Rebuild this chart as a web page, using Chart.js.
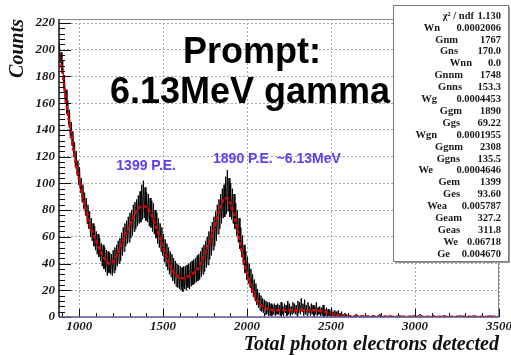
<!DOCTYPE html>
<html>
<head>
<meta charset="utf-8">
<script src="https://cdn.jsdelivr.net/npm/chart.js@4.4.1/dist/chart.umd.min.js"></script>
<style>
  html, body { margin: 0; padding: 0; background: #fff; }
  canvas { display: block; }
</style>
</head>
<body>
<canvas id="c" width="511" height="355"></canvas>
<script>
// Histogram of total photo-electrons: 5 PE bins from 880 to 2600
const binStart = 880;
const binWidth = 5;
const counts = [
  205,190,198,183,192,171,181,160,170,152,
  162,144,155,134,146,128,139,120,131,112,
  124,106,117,99,112,93,104,86,99,81,
  93,76,89,70,84,66,79,60,74,57,
  70,53,68,50,64,47,62,45,59,42,
  55,38,54,36,52,34,50,31,49,33,
  48,32,47,31,50,33,52,35,54,38,
  57,40,59,42,63,46,67,49,70,53,
  72,55,75,56,78,59,80,61,84,64,
  86,66,88,68,91,70,94,71,99,73,
  102,74,97,72,93,71,92,68,89,67,
  87,64,85,62,80,59,78,55,74,52,
  70,49,67,46,62,41,58,38,55,35,
  52,32,49,30,47,27,44,25,42,23,
  40,22,39,21,38,20,37,19,38,21,
  38,20,39,22,40,21,41,23,42,24,
  43,25,44,26,46,27,47,28,49,30,
  52,32,54,34,57,37,60,39,64,43,
  68,46,71,50,75,53,79,57,84,62,
  88,66,92,70,96,74,99,75,105,77,
  110,79,104,75,100,73,96,70,92,66,
  85,61,80,56,74,51,67,45,61,39,
  54,33,49,28,45,25,40,22,36,18,
  32,15,28,12,25,9,21,7,18,5,
  16,4,14,3,13,2,12,2,11,1,
  11,1,10,1,9,2,10,1,9,2,
  10,2,9,1,11,2,8,1,10,3,
  9,1,12,2,10,1,8,2,11,3,
  10,2,9,1,12,3,11,2,14,4,
  10,1,13,2,9,1,11,3,8,1,
  10,2,9,1,8,2,11,1,7,2,
  8,1,7,1,9,0,6,1,7,0,
  6,1,5,0,7,1,4,0,5,0,
  4,0,5,1,3,0,4,0,2,0,
  3,0,2,0
];
// Sparse tail: 20 PE bins from 2600 to 3500
const tailStart = 2600;
const tailWidth = 20;
const tailCounts = [
  1,0,2,0,1,0,0,1,0,2,
  0,0,1,0,0,1,0,0,0,1,
  0,2,0,0,0,1,0,0,1,0,
  0,0,0,1,0,0,0,1,0,0,
  0,0,1,0,0
];

// Fitted model (sum of Gaussians + tail)
const fitX = [
  880,900,920,940,960,980,
  1000,1020,1040,1060,1080,1100,1120,1140,1160,1180,
  1200,1220,1240,1260,1280,1300,1320,1340,1360,1380,
  1400,1420,1440,1460,1480,1500,1520,1540,1560,1580,
  1600,1620,1640,1660,1680,1700,1720,1740,1760,1780,
  1800,1820,1840,1860,1880,1900,1920,1940,1960,1980,
  2000,2020,2040,2060,2080,2100,2120,2140,2160,
  2200,2250,2300,2350,2400,
  2440,2460,2480,2500,2520,2540,2560,
  2600,2700,2800,3000,3250,3500
];
const fitY = [
  198,184,163,146,130,115,
  103,91,80,70,63,57,51,46,42,40,
  41,45,51,57,63,68,74,79,82,83,
  82,79,74,67,60,52,45,39,34,31,
  29,29,30,31,33,35,39,45,51,57,
  65,74,82,88,89,85,78,67,54,42,
  32,24,17,12,9,7,6,5.5,5,
  5,5,5,5,5,
  4.5,3.8,3,2.3,1.7,1.3,1,
  0.7,0.4,0.3,0.2,0.1,0.1
];

const xTicks = [1000, 1500, 2000, 2500, 3000, 3500];
const yTicks = [0, 20, 40, 60, 80, 100, 120, 140, 160, 180, 200, 220];

// Fit summary shown in the statistics box
const statNames = ['\u03c7\u00b2 / ndf','Wn','Gnm','Gns','Wnn','Gnnm','Gnns','Wg','Ggm','Ggs','Wgn',
  'Ggnm','Ggns','We','Gem','Ges','Wea','Geam','Geas','We','Ge'];
const statValues = ['1.130','0.0002006','1767','170.0','0.0','1748','153.3','0.0004453','1890','69.22',
  '0.0001955','2308','135.5','0.0004646','1399','93.60','0.005787','327.2','311.8','0.06718','0.004670'];

const titleLines = ['Prompt:', '6.13MeV gamma'];
const peakLabels = ['1399 P.E.', '1890 P.E. ~6.13MeV'];
const peakPE = [1399, 1890];

// right edge of each name inside the stats box (px)
const statNameRight = [474,440,458,458,472,463,462,437,462,460,437,463,460,433,460,460,447,462,460,458,450];

const serif = '"Liberation Serif", "Times New Roman", serif';
const sans = '"Liberation Sans", Arial, sans-serif';
Chart.defaults.font.family = serif;

const histPoints = counts.map((c, i) => ({ x: binStart + binWidth * (i + 0.5), y: c }))
  .concat(tailCounts.map((c, i) => ({ x: tailStart + tailWidth * (i + 0.5), y: c })));
const fitPoints = fitX.map((v, i) => ({ x: v, y: fitY[i] }));

const decor = {
  id: 'decor',
  afterDraw(chart) {
    const { ctx, chartArea: a, scales: { x, y } } = chart;
    ctx.save();

    // frame: top and right in grey
    ctx.lineWidth = 1;
    ctx.strokeStyle = '#8a8a8a';
    ctx.beginPath();
    ctx.moveTo(a.left, a.top + 0.5); ctx.lineTo(a.right, a.top + 0.5);
    ctx.moveTo(a.right - 0.5, a.top); ctx.lineTo(a.right - 0.5, a.bottom);
    ctx.stroke();

    // inward tick marks on the x axis
    ctx.strokeStyle = '#111';
    ctx.beginPath();
    for (let v = 900; v <= 3500; v += 100) {
      const px = Math.round(x.getPixelForValue(v)) + 0.5;
      const len = v % 500 === 0 ? 8 : 4;
      ctx.moveTo(px, a.bottom); ctx.lineTo(px, a.bottom - len);
    }
    // inward tick marks on the y axis
    for (let v = 0; v <= 222; v += 4) {
      const py = Math.round(y.getPixelForValue(v)) + 0.5;
      const len = v % 20 === 0 ? 12 : 6;
      ctx.moveTo(a.left, py); ctx.lineTo(a.left + len, py);
    }
    ctx.stroke();

    // axis lines
    ctx.lineWidth = 1.5;
    ctx.strokeStyle = '#111';
    ctx.beginPath(); ctx.moveTo(a.left, a.top); ctx.lineTo(a.left, a.bottom); ctx.stroke();
    ctx.strokeStyle = '#5a5a9c';
    ctx.beginPath(); ctx.moveTo(a.left, a.bottom); ctx.lineTo(a.right, a.bottom); ctx.stroke();

    // headline
    ctx.fillStyle = '#000';
    ctx.font = 'bold 36px ' + sans;
    ctx.textAlign = 'center';
    ctx.textBaseline = 'alphabetic';
    ctx.fillText(titleLines[0], 252, 63);
    ctx.fillText(titleLines[1], 250, 103);

    // peak annotations
    ctx.fillStyle = '#5b40ee';
    ctx.font = 'bold 14px ' + sans;
    ctx.textAlign = 'center';
    ctx.fillText(peakLabels[0], x.getPixelForValue(peakPE[0]), y.getPixelForValue(110));
    const lead = ctx.measureText(peakLabels[1].split(' ')[0]).width;
    ctx.textAlign = 'left';
    ctx.fillText(peakLabels[1], x.getPixelForValue(peakPE[1]) - lead / 2, y.getPixelForValue(115));

    // statistics box
    const bx = 393, by = 5, bw = 115, bh = 256;
    ctx.fillStyle = '#9c9c9c';
    ctx.fillRect(bx + 2, by + 2, bw, bh);
    ctx.fillStyle = '#fff';
    ctx.fillRect(bx, by, bw, bh);
    ctx.lineWidth = 1;
    ctx.strokeStyle = '#7a7a7a';
    ctx.strokeRect(bx + 0.5, by + 0.5, bw, bh);

    ctx.fillStyle = '#1a1a1a';
    ctx.font = 'bold 10.5px ' + serif;
    ctx.textBaseline = 'middle';
    statNames.forEach((n, i) => {
      const ty = 16 + i * 11.9;
      ctx.textAlign = 'right';
      ctx.fillText(statValues[i], 501, ty);
      ctx.fillText(n, statNameRight[i], ty);
    });

    ctx.restore();
  }
};

new Chart(document.getElementById('c'), {
  type: 'line',
  data: {
    datasets: [
      {
        label: 'fit',
        data: fitPoints,
        borderColor: '#e00000',
        borderWidth: 2.5,
        borderDash: [4, 2],
        pointRadius: 0,
        cubicInterpolationMode: 'monotone',
        fill: false
      },
      {
        label: 'counts',
        data: histPoints,
        borderColor: '#000',
        borderWidth: 1,
        pointRadius: 0,
        tension: 0,
        fill: false
      }
    ]
  },
  options: {
    responsive: false,
    animation: false,
    devicePixelRatio: 1,
    layout: { padding: { left: 0, right: 12, top: 19, bottom: 0 } },
    plugins: { legend: { display: false }, tooltip: { enabled: false } },
    scales: {
      x: {
        type: 'linear',
        min: 880,
        max: 3500,
        afterBuildTicks: s => { s.ticks = xTicks.map(v => ({ value: v })); },
        afterFit: s => { s.height = 38; s.paddingLeft = 0; s.paddingRight = 0; },
        ticks: {
          font: { family: serif, size: 13, style: 'italic', weight: 'bold' },
          color: '#1a1a1a',
          padding: 2,
          maxRotation: 0,
          callback: v => String(v)
        },
        grid: { color: '#a8a8a8', drawTicks: false },
        border: { display: false, dash: [2, 2] },
        title: {
          display: true,
          text: 'Total photon electrons detected',
          align: 'end',
          color: '#111',
          font: { family: serif, size: 20, style: 'italic', weight: 'bold', lineHeight: 1 },
          padding: { top: 0, bottom: 0 }
        }
      },
      y: {
        min: 0,
        max: 223,
        afterBuildTicks: s => { s.ticks = yTicks.map(v => ({ value: v })); },
        afterFit: s => { s.width = 59; s.paddingTop = 0; s.paddingBottom = 0; },
        ticks: {
          font: { family: serif, size: 13, style: 'italic', weight: 'bold' },
          color: '#1a1a1a',
          padding: 4,
          callback: v => String(v)
        },
        grid: { color: '#a8a8a8', drawTicks: false },
        border: { display: false, dash: [2, 2] },
        title: {
          display: true,
          text: 'Counts',
          align: 'end',
          color: '#111',
          font: { family: serif, size: 20, style: 'italic', weight: 'bold', lineHeight: 1 },
          padding: { top: 8, bottom: 0 }
        }
      }
    }
  },
  plugins: [decor]
});
</script>
</body>
</html>
